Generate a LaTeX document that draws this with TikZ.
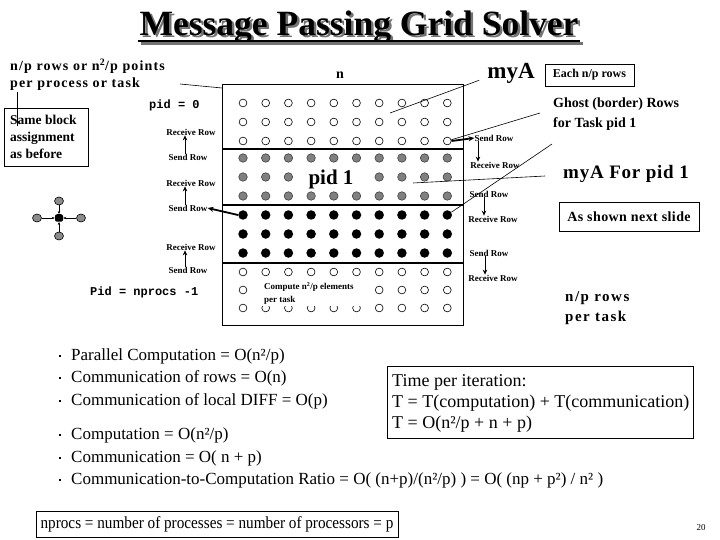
\documentclass[tikz,border=0pt]{standalone}
\usepackage{fontspec}
\setmainfont{Liberation Serif}
\newfontfamily\monof{Liberation Mono}
\usetikzlibrary{arrows.meta,shapes.geometric}
\tikzset{
 wdot/.style={circle,draw=black,fill=white,line width=0.6pt,minimum size=7.8pt,inner sep=0pt},
 gdot/.style={circle,draw=black!75,fill=black!50,line width=0.6pt,minimum size=8.5pt,inner sep=0pt},
 bdot/.style={circle,fill=black,minimum size=9.5pt,inner sep=0pt},
 sepline/.style={line width=2.4pt},
 lbl/.style={font=\fontsize{9}{9}\selectfont\bfseries,inner sep=0pt},
 lab/.style={font=\fontsize{14}{14}\selectfont\bfseries\addfontfeature{LetterSpace=8},inner sep=0pt,anchor=west},
 bul/.style={font=\fontsize{17}{17}\selectfont,inner sep=0pt,anchor=west},
 arr/.style={-{Stealth[length=5pt,width=4.5pt]},line width=1pt},
 thickarr/.style={-{Stealth[length=6pt,width=5pt]},line width=1.8pt},
 leader/.style={line width=0.6pt},
 boxed/.style={draw,line width=0.8pt},
 sq/.style={fill=black,minimum size=2.5pt,inner sep=0pt},
 stg/.style={ellipse,draw=black,fill=black!45,line width=0.6pt,minimum width=9pt,minimum height=8pt,inner sep=0pt},
 sarr/.style={-{Stealth[length=3pt,width=2.5pt]},line width=0.5pt},
}
\begin{document}
\begin{tikzpicture}[x=1pt,y=-1pt]
\useasboundingbox[fill=white] (0,0) rectangle (720,540);

% title
\node[font=\fontsize{35.5}{35.5}\selectfont\bfseries,text=black!55,anchor=base] at (361.5,37.5) {Message Passing Grid Solver};
\node[font=\fontsize{35.5}{35.5}\selectfont\bfseries,anchor=base] (title) at (359,35.5) {Message Passing Grid Solver};
\coordinate (ul1) at (140.5,43.5); \coordinate (ul2) at (582.5,43.5);
\draw[line width=2.2pt,black!55] (ul1) -- (ul2);
\coordinate (ua) at (138,41); \coordinate (ub) at (580,41);
\draw[line width=2.2pt] (ua) -- (ub);

% grid frame
\coordinate (g1) at (222,84); \coordinate (g2) at (463,325);
\draw[line width=0.9pt] (g1) rectangle (g2);
\foreach \y [count=\i] in {149,205,263} {
  \coordinate (sl\i) at (222,\y); \coordinate (sr\i) at (463,\y);
  \draw[sepline] (sl\i) -- (sr\i);
}
% dots
\foreach \c [evaluate=\c as \x using 243+22.7*(\c-1)] in {1,...,10} {
  \foreach \r/\y in {1/103,2/122,3/141,10/272,11/290,12/308} { \node[wdot] (d\r-\c) at (\x,\y) {}; }
  \foreach \r/\y in {4/158,5/177,6/196} { \node[gdot] (d\r-\c) at (\x,\y) {}; }
  \foreach \r/\y in {7/215,8/234,9/253} { \node[bdot] (d\r-\c) at (\x,\y) {}; }
}
% covering texts inside grid
\node[fill=white,minimum width=64pt,minimum height=25pt,inner sep=0pt,font=\fontsize{21}{21}\selectfont\bfseries] (pid1) at (331,179) {pid 1};
\node[fill=white,minimum width=116pt,minimum height=25pt,inner sep=0pt] (comp) at (311,293) {};
\node[anchor=west,font=\fontsize{9}{9}\selectfont\bfseries,inner sep=0pt] (comp1) at (264,287) {Compute n\textsuperscript{2}/p elements};
\node[anchor=west,font=\fontsize{9}{9}\selectfont\bfseries,inner sep=0pt] (comp2) at (264,300) {per task};

% top-left labels
\node[lab] (np1) at (10,66) {n/p rows or n\textsuperscript{2}/p points};
\node[lab] (np2) at (10,84) {per process or task};
\coordinate (lead1) at (180,84);
\coordinate (lead1e) at (222,88);
\draw[leader] (lead1) -- (lead1e);
\node[boxed,minimum width=84pt,minimum height=58pt,anchor=north west,inner sep=0pt] (same) at (4,108) {};
\node[anchor=west,inner sep=0pt,align=left,font=\fontsize{13.5}{17}\selectfont\bfseries] (sametxt) at (10,137) {Same block\\assignment\\as before};
\coordinate (vl1) at (17,92); \coordinate (vl2) at (17,126);
\draw[leader] (vl1) -- (vl2);

% stencil
\node[rectangle,rounded corners=2pt,fill=black,minimum width=8pt,minimum height=7.5pt,inner sep=0pt] (c0) at (59,218) {};
\node[stg] (cn) at (59,201) {};
\node[stg] (cs) at (59,236) {};
\node[stg] (cw) at (37,218) {};
\node[stg] (ce) at (81,218) {};
\draw[sarr] (cn) -- (c0);
\draw[sarr] (cs) -- (c0);
\draw[sarr] (cw) -- (c0);
\draw[sarr] (ce) -- (c0);

% pid labels
\node[font=\monof\fontsize{12}{12}\selectfont\bfseries,anchor=west,inner sep=0pt] (pid0) at (149,105) {pid = 0};
\node[font=\monof\fontsize{12}{12}\selectfont\bfseries,anchor=west,inner sep=0pt] (pidn) at (90,292) {Pid = nprocs -1};

% left send/receive
\node[lbl] (lr1) at (191,132) {Receive Row};
\node[lbl] (ls1) at (188,157) {Send Row};
\node[lbl] (lr2) at (191,183) {Receive Row};
\node[lbl] (ls2) at (188,208) {Send Row};
\node[lbl] (lr3) at (191,247) {Receive Row};
\node[lbl] (ls3) at (188,270) {Send Row};
\draw[arr] (ls1.north) ++(-3,0) coordinate (a1) -- (a1 |- lr1.south);
\draw[arr] (ls2.north) ++(-3,0) coordinate (a2) -- (a2 |- lr2.south);
\draw[arr] (ls3.north) ++(-3,0) coordinate (a3) -- (a3 |- lr3.south);
\draw[thickarr] (d7-1.west) -- (ls2.east);

% right send/receive
\node[lbl] (rs1) at (494,138) {Send Row};
\node[lbl] (rr1) at (495,165) {Receive Row};
\node[lbl] (rs2) at (489,194) {Send Row};
\node[lbl] (rr2) at (493,219) {Receive Row};
\node[lbl] (rs3) at (489,253) {Send Row};
\node[lbl] (rr3) at (493,278) {Receive Row};
\draw[arr] (rs1.south) ++(-16,0) coordinate (b1) -- (b1 |- rr1.north);
\draw[arr] (rs2.south) ++(-5,0) coordinate (b2) -- (b2 |- rr2.north);
\draw[arr] (rs3.south) ++(-4,0) coordinate (b3) -- (b3 |- rr3.north);
\draw[thickarr] (d3-10.east) -- (rs1.west);

% top labels
\node[font=\fontsize{14}{14}\selectfont\bfseries,inner sep=0pt] (nlab) at (340,75) {n};
\node[font=\fontsize{23}{23}\selectfont\bfseries,inner sep=0pt] (myA) at (511,73) {myA};
\coordinate (myAl) at (390,113);
\draw[leader] (myA.south west) ++(-8,-3) coordinate (myAs) -- (myAl);
\node[boxed,font=\fontsize{12}{12}\selectfont\bfseries,minimum width=89pt,minimum height=22pt,inner sep=0pt] (each) at (589.5,75) {Each n/p rows};
\node[anchor=west,inner sep=0pt,align=left,font=\fontsize{14}{20}\selectfont\bfseries] (ghost) at (553,114) {Ghost (border) Rows\\for Task pid 1};
\coordinate (gh1) at (540,113);
\draw[leader] (gh1) -- (d3-10);
\coordinate (gh2) at (552,144);
\draw[leader] (gh2) -- (d7-10);
\node[anchor=west,inner sep=0pt,font=\fontsize{19}{19}\selectfont\bfseries\addfontfeature{LetterSpace=4}] (myA1) at (563,174) {myA For pid 1};
\coordinate (m1a) at (545,176); \coordinate (m1b) at (413,183);
\draw[leader] (m1a) -- (m1b);
\node[boxed,font=\fontsize{14}{14}\selectfont\bfseries\addfontfeature{LetterSpace=3},minimum width=140pt,minimum height=29pt,inner sep=0pt] (shown) at (629,217) {As shown next slide};
\node[anchor=west,inner sep=0pt,align=left,font=\fontsize{15}{20}\selectfont\bfseries\addfontfeature{LetterSpace=10}] (npr) at (565,308) {n/p rows\\per task};

% bullets
\foreach \y/\t [count=\i] in {356/{Parallel Computation = O(n²/p)},378/{Communication of rows = O(n)},401/{Communication of local DIFF = O(p)},435/{Computation = O(n²/p)},458/{Communication = O( n + p)},480/{Communication-to-Computation Ratio = O( (n+p)/(n²/p) ) = O( (np + p²) / n² )}} {
  \node[sq] (bq\i) at (60,\y) {};
  \node[bul] (bt\i) at (71,\y) {\t};
}

% time box
\node[boxed,minimum width=306pt,minimum height=72pt,inner sep=0pt,anchor=north west] (tbox) at (387,366) {};
\node[anchor=west,inner sep=0pt,align=left,font=\fontsize{18}{21}\selectfont] (ttxt) at (392,403.5) {Time per iteration:\\T = T(computation) + T(communication)\\T = O(n²/p + n + p)};

% nprocs box
\node[boxed,minimum width=362pt,minimum height=26pt,inner sep=0pt,anchor=north west] (nbox) at (36,511) {};
\node[inner sep=0pt,font=\fontsize{17}{17}\selectfont] (ntxt) at (217,524) {\scalebox{0.895}[1]{nprocs = number of processes = number of processors = p}};
\node[inner sep=0pt,font=\fontsize{9}{9}\selectfont] (pg) at (701,528) {20};
\end{tikzpicture}
\end{document}
